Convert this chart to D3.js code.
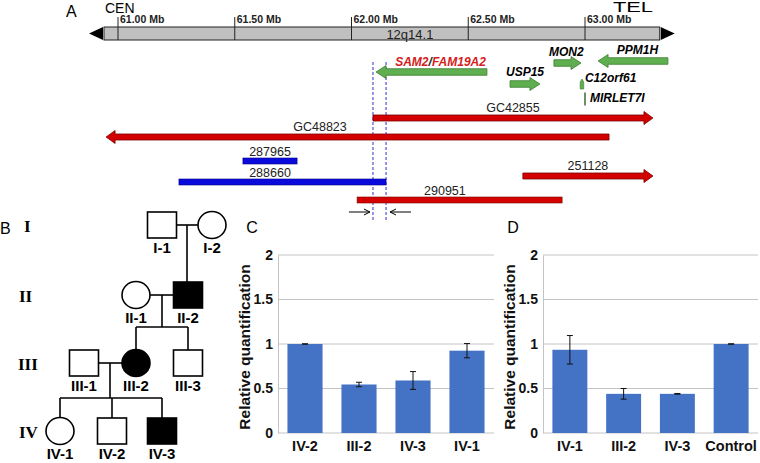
<!DOCTYPE html>
<html lang="en">
<head>
<meta charset="UTF-8">
<title>12q14.1 figure</title>
<script src="https://d3js.org/d3.v7.min.js"></script>
<style>
  body, html { margin: 0; padding: 0; background: #fff; }
  svg { font-family: "Liberation Sans", Arial, sans-serif; }
</style>
</head>
<body>
<div id="fig"></div>
<script>
// ---- panel A data (positions in Mb) ----
const chromRange = [60.94, 63.32]
const mbTicks = [61.0, 61.5, 62.0, 62.5, 63.0]
const mbTickLabels = ["61.00 Mb", "61.50 Mb", "62.00 Mb", "62.50 Mb", "63.00 Mb"]

const genes = [
  { name: "SAM2/FAM19A2", start: 62.105, end: 62.58, dir: -1, row: 72 },
  { name: "USP15", start: 62.679, end: 62.807, dir: 1, row: 84 },
  { name: "MON2", start: 62.867, end: 62.983, dir: 1, row: 63 },
  { name: "PPM1H", start: 63.056, end: 63.355, dir: -1, row: 61 }
]
const smallGenes = [
  { name: "C12orf61", pos: 62.987, row: 84, len: 10 },
  { name: "MIRLET7I", pos: 63.0, row: 99, len: 13 }
]
const cnvArrows = [
  { name: "GC42855", start: 62.092, end: 63.291, dir: 1, row: 118 },
  { name: "GC48823", start: 60.949, end: 63.103, dir: -1, row: 137 },
  { name: "251128", start: 62.734, end: 63.291, dir: 1, row: 176 }
]
const cnvBars = [
  { name: "287965", start: 61.535, end: 61.767, row: 161, color: "#0a0adc", labX: 61.651 },
  { name: "288660", start: 61.261, end: 62.148, row: 182, color: "#0a0adc", labX: 61.651 },
  { name: "290951", start: 62.024, end: 62.902, row: 200, color: "#d40000", labX: 62.40 }
]
const breakLines = [62.092, 62.148]
const primers = [
  { start: 61.989, end: 62.079 },
  { start: 62.255, end: 62.165 }
]

// ---- panel B pedigree ----
const generations = ["I", "II", "III", "IV"]
const people = [
  { id: "I-1", sex: "m", aff: false, x: 162, y: 225 },
  { id: "I-2", sex: "f", aff: false, x: 212, y: 225 },
  { id: "II-1", sex: "f", aff: false, x: 136, y: 295 },
  { id: "II-2", sex: "m", aff: true, x: 188, y: 295 },
  { id: "III-1", sex: "m", aff: false, x: 84, y: 363 },
  { id: "III-2", sex: "f", aff: true, x: 136, y: 363 },
  { id: "III-3", sex: "m", aff: false, x: 188, y: 363 },
  { id: "IV-1", sex: "f", aff: false, x: 60, y: 431 },
  { id: "IV-2", sex: "m", aff: false, x: 112, y: 431 },
  { id: "IV-3", sex: "m", aff: true, x: 162, y: 431 }
]
const genY = [225, 295, 363, 431]

// ---- panels C / D qPCR ----
const yTicks = [0, 0.5, 1, 1.5, 2]
const cSamples = ["IV-2", "III-2", "IV-3", "IV-1"]
const cValues = [1.0, 0.545, 0.59, 0.925]
const cErrors = [0.002, 0.025, 0.1, 0.08]
const dSamples = ["IV-1", "III-2", "IV-3", "Control"]
const dValues = [0.935, 0.44, 0.44, 1.0]
const dErrors = [0.16, 0.06, 0.004, 0.002]

const width = 760, height = 463
const svg = d3.select("#fig").append("svg")
  .attr("width", width).attr("height", height)

// ================= Panel A =================
const x = d3.scaleLinear().domain([61.0, 63.0]).range([118, 585])
const gA = svg.append("g")

gA.append("text").attr("x", 66).attr("y", 17).attr("font-size", 16).text("A")
gA.append("text").attr("x", 105).attr("y", 12.5).attr("font-size", 14).text("CEN")
gA.append("text").attr("x", 613).attr("y", 11.5).attr("font-size", 14)
  .attr("textLength", 40).attr("lengthAdjust", "spacingAndGlyphs").text("TEL")

// chromosome bar
gA.append("rect")
  .attr("x", x(chromRange[0])).attr("y", 27)
  .attr("width", x(chromRange[1]) - x(chromRange[0])).attr("height", 13)
  .attr("fill", "#c0c0c0").attr("stroke", "#222").attr("stroke-width", 1)
gA.append("path")
  .attr("d", `M${x(chromRange[0]) - 1},27 L${x(chromRange[0]) - 15},33.5 L${x(chromRange[0]) - 1},40 Z`)
  .attr("fill", "#000")
gA.append("path")
  .attr("d", `M${x(chromRange[1]) + 1},27 L${x(chromRange[1]) + 15},33.5 L${x(chromRange[1]) + 1},40 Z`)
  .attr("fill", "#000")

mbTicks.forEach((t, i) => {
  gA.append("line").attr("x1", x(t)).attr("x2", x(t)).attr("y1", 17).attr("y2", 40)
    .attr("stroke", "#222").attr("stroke-width", 1)
  gA.append("text").attr("x", x(t) + 2).attr("y", 23).attr("font-size", 10.5)
    .attr("font-weight", "bold").attr("fill", "#222").text(mbTickLabels[i])
})
gA.append("text").attr("x", x(62.25)).attr("y", 38.5).attr("font-size", 13)
  .attr("text-anchor", "middle").attr("fill", "#222").text("12q14.1")

function arrowPath(x0, x1, yc, h, H, L) {
  const d = x1 > x0 ? 1 : -1
  const xb = x1 - d * L
  return `M${x0},${yc - h} L${xb},${yc - h} L${xb},${yc - H} L${x1},${yc} L${xb},${yc + H} L${xb},${yc + h} L${x0},${yc + h} Z`
}

// break-point dashed lines
breakLines.forEach(b => {
  gA.append("line").attr("x1", x(b)).attr("x2", x(b)).attr("y1", 62).attr("y2", 221)
    .attr("stroke", "#3030c8").attr("stroke-width", 1).attr("stroke-dasharray", "3,2")
})

// genes
genes.forEach(g => {
  const tail = g.dir > 0 ? g.start : g.end
  const tip = g.dir > 0 ? g.end : g.start
  gA.append("path").attr("d", arrowPath(x(tail), x(tip), g.row, 3.3, 6.5, 10))
    .attr("fill", "#5fae4f").attr("stroke", "#3d7d33").attr("stroke-width", 0.8)
})
// gene labels
const geneFont = g => g.attr("font-size", 12).attr("font-style", "italic").attr("font-weight", "bold")
const sam = gA.append("text").attr("x", x(62.58) - 1).attr("y", 66).attr("text-anchor", "end").call(geneFont)
sam.append("tspan").attr("fill", "#d42020").text("SAM2")
sam.append("tspan").attr("fill", "#222").text("/")
sam.append("tspan").attr("fill", "#d42020").text("FAM19A2")
gA.append("text").attr("x", x(62.743)).attr("y", 76).attr("text-anchor", "middle").call(geneFont).text("USP15")
gA.append("text").attr("x", x(62.92)).attr("y", 56).attr("text-anchor", "middle").call(geneFont).text("MON2")
gA.append("text").attr("x", x(63.225)).attr("y", 54).attr("text-anchor", "middle").call(geneFont).text("PPM1H")

smallGenes.forEach((s, i) => {
  const sx = x(s.pos)
  if (i === 0) {
    gA.append("path")
      .attr("d", `M${sx},${s.row - s.len / 2} L${sx + 1.8},${s.row - 2} L${sx + 1.8},${s.row + s.len / 2} L${sx - 1.8},${s.row + s.len / 2} L${sx - 1.8},${s.row - 2} Z`)
      .attr("fill", "#5fae4f").attr("stroke", "#3d7d33").attr("stroke-width", 0.6)
  } else {
    gA.append("line").attr("x1", sx).attr("x2", sx)
      .attr("y1", s.row - s.len / 2).attr("y2", s.row + s.len / 2)
      .attr("stroke", "#3d6d33").attr("stroke-width", 1.5)
  }
  gA.append("text").attr("x", sx + (i === 0 ? 3 : 5)).attr("y", s.row - (i === 0 ? 2 : -3))
    .call(geneFont).text(s.name)
})

// CNV arrows
cnvArrows.forEach(c => {
  const tail = c.dir > 0 ? c.start : c.end
  const tip = c.dir > 0 ? c.end : c.start
  gA.append("path").attr("d", arrowPath(x(tail), x(tip), c.row, 3, 6.5, 9))
    .attr("fill", "#d40000").attr("stroke", "#7a0000").attr("stroke-width", 0.8)
  const lx = c.name === "GC48823" ? 320 : (x(c.start) + x(c.end)) / 2
  gA.append("text").attr("x", lx).attr("y", c.row - 6.5)
    .attr("font-size", 12.5).attr("text-anchor", "middle").attr("fill", "#222").text(c.name)
})
cnvBars.forEach(c => {
  gA.append("rect").attr("x", x(c.start)).attr("y", c.row - 3)
    .attr("width", x(c.end) - x(c.start)).attr("height", 6)
    .attr("fill", c.color).attr("stroke", c.color === "#d40000" ? "#7a0000" : "#00008a")
    .attr("stroke-width", 0.6)
  gA.append("text").attr("x", x(c.labX)).attr("y", c.row - 5.5)
    .attr("font-size", 12.5).attr("text-anchor", "middle").attr("fill", "#222").text(c.name)
})
// primer arrows
primers.forEach(p => {
  const x0 = x(p.start), x1 = x(p.end), d = x1 > x0 ? 1 : -1
  gA.append("line").attr("x1", x0).attr("x2", x1).attr("y1", 212).attr("y2", 212)
    .attr("stroke", "#000").attr("stroke-width", 1)
  gA.append("path").attr("d", `M${x1 - d * 6},${209} L${x1},212 L${x1 - d * 6},215`)
    .attr("fill", "none").attr("stroke", "#000").attr("stroke-width", 1)
})

// ================= Panel B =================
const gB = svg.append("g")
const pedStroke = "#000", pw = 1.6
gB.append("text").attr("x", 0).attr("y", 234).attr("font-size", 16).text("B")
generations.forEach((g, i) => {
  gB.append("text").attr("x", g.length > 2 ? 18 : (g.length > 1 ? 19 : 24)).attr("y", genY[i] + 7)
    .attr("font-family", "Liberation Serif, Times New Roman, serif").attr("font-weight", "bold")
    .attr("font-size", 17).text(g)
})

const P = Object.fromEntries(people.map(p => [p.id, p]))
function line(x1, y1, x2, y2) {
  gB.append("line").attr("x1", x1).attr("y1", y1).attr("x2", x2).attr("y2", y2)
    .attr("stroke", pedStroke).attr("stroke-width", pw)
}
const half = 14
// couples & descent
function family(a, b, kids, sibY) {
  const pa = P[a], pb = P[b]
  line(pa.x + half, pa.y, pb.x - half, pb.y)
  const mx = (pa.x + pb.x) / 2
  if (kids.length === 1) {
    line(mx, pa.y, mx, P[kids[0]].y - 13)
    return
  }
  line(mx, pa.y, mx, sibY)
  const xs = kids.map(k => P[k].x)
  line(d3.min(xs), sibY, d3.max(xs), sibY)
  kids.forEach(k => line(P[k].x, sibY, P[k].x, P[k].y - 13))
}
family("I-1", "I-2", ["II-2"])
family("II-1", "II-2", ["III-2", "III-3"], 327)
family("III-1", "III-2", ["IV-1", "IV-2", "IV-3"], 398)

people.forEach(p => {
  if (p.sex === "m") {
    gB.append("rect").attr("x", p.x - 14.5).attr("y", p.y - 13).attr("width", 29).attr("height", 26)
      .attr("fill", p.aff ? "#000" : "#fff").attr("stroke", pedStroke).attr("stroke-width", pw)
  } else {
    gB.append("ellipse").attr("cx", p.x).attr("cy", p.y).attr("rx", 14).attr("ry", 13.5)
      .attr("fill", p.aff ? "#000" : "#fff").attr("stroke", pedStroke).attr("stroke-width", pw)
  }
  gB.append("text").attr("x", p.x).attr("y", p.y + 28).attr("text-anchor", "middle")
    .attr("font-size", 15).attr("font-weight", "bold").text(p.id)
})

// ================= Panels C and D =================
function barPanel(letter, letterX, left, right, samples, values, errors) {
  const g = svg.append("g")
  const top = 255, bottom = 433
  const y = d3.scaleLinear().domain([0, 2]).range([bottom, top])
  const xb = d3.scaleBand().domain(samples).range([left, right])
    .paddingInner(0.35).paddingOuter(0.175)

  g.append("text").attr("x", letterX).attr("y", 233).attr("font-size", 16)
    .attr("text-anchor", "middle").text(letter)

  g.selectAll(".grid").data(yTicks.filter(t => t > 0)).join("line")
    .attr("x1", left).attr("x2", right).attr("y1", d => y(d)).attr("y2", d => y(d))
    .attr("stroke", "#c4c4c4").attr("stroke-width", 1)

  const yAxis = g.append("g").attr("transform", `translate(${left},0)`)
    .call(d3.axisLeft(y).tickValues(yTicks).tickFormat(d3.format("")).tickSize(0).tickPadding(5))
  yAxis.select(".domain").attr("stroke", "#c4c4c4")
  yAxis.selectAll("text").attr("font-size", 14).attr("font-weight", "bold")
    .attr("font-family", "Liberation Sans, Arial, sans-serif").attr("fill", "#111")

  g.append("line").attr("x1", left).attr("x2", right).attr("y1", bottom).attr("y2", bottom)
    .attr("stroke", "#c4c4c4")

  g.selectAll(".bar").data(samples).join("rect")
    .attr("x", d => xb(d)).attr("width", xb.bandwidth())
    .attr("y", (d, i) => y(values[i])).attr("height", (d, i) => bottom - y(values[i]))
    .attr("fill", "#4472c4")

  samples.forEach((s, i) => {
    const cx = xb(s) + xb.bandwidth() / 2
    const y1 = y(values[i] + errors[i]), y0 = y(values[i] - errors[i])
    g.append("line").attr("x1", cx).attr("x2", cx).attr("y1", y1).attr("y2", y0)
      .attr("stroke", "#111").attr("stroke-width", 1)
    ;[y0, y1].forEach(yy => g.append("line").attr("x1", cx - 3).attr("x2", cx + 3)
      .attr("y1", yy).attr("y2", yy).attr("stroke", "#111").attr("stroke-width", 1))
  })

  const xAxis = g.append("g").attr("transform", `translate(0,${bottom})`)
    .call(d3.axisBottom(xb).tickSize(0).tickPadding(8))
  xAxis.select(".domain").remove()
  xAxis.selectAll("text").attr("font-size", 14.5).attr("font-weight", "bold")
    .attr("font-family", "Liberation Sans, Arial, sans-serif").attr("fill", "#111")

  g.append("text")
    .attr("transform", `translate(${left - 28},${(top + bottom) / 2 + 3}) rotate(-90)`)
    .attr("text-anchor", "middle").attr("font-size", 15.5).attr("font-weight", "bold")
    .attr("fill", "#111").text("Relative quantification")
}

barPanel("C", 252, 278, 494, cSamples, cValues, cErrors)
barPanel("D", 513, 543, 758, dSamples, dValues, dErrors)
</script>
</body>
</html>
